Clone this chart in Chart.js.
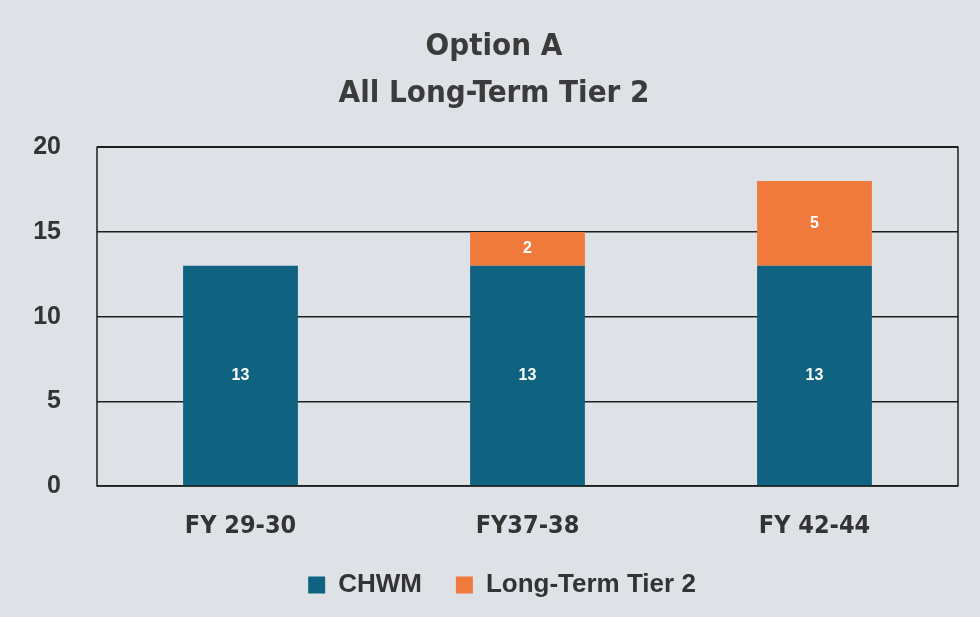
<!DOCTYPE html>
<html>
<head>
<meta charset="utf-8">
<script src="https://cdn.jsdelivr.net/npm/chart.js@4"></script>
<style>
  html, body { margin: 0; padding: 0; background: #dee2e7; }
  #wrap { width: 980px; height: 617px; }
</style>
</head>
<body>
<div id="wrap"><canvas id="chart" width="980" height="617"></canvas></div>
<script>
// Datos del grafico
const categories = ['FY 29-30', 'FY37-38', 'FY 42-44'];
const chwmValues = [13, 13, 13];
const tier2Values = [0, 2, 5];
const yTicks = [0, 5, 10, 15, 20];

const condensed = "'DejaVu Sans Condensed', 'Liberation Sans Narrow', sans-serif";
const plain = "'Liberation Sans', Arial, sans-serif";

// Etiquetas blancas dentro de cada segmento
const segmentLabels = {
    id: 'segmentLabels',
    afterDatasetsDraw(chart) {
        const ctx = chart.ctx;
        ctx.save();
        ctx.fillStyle = '#ffffff';
        ctx.font = "bold 16px " + plain;
        ctx.textAlign = 'center';
        ctx.textBaseline = 'middle';
        chart.data.datasets.forEach((ds, i) => {
            const meta = chart.getDatasetMeta(i);
            meta.data.forEach((bar, j) => {
                const v = ds.data[j];
                if (!v) return;
                ctx.fillText(String(v), bar.x, (bar.y + bar.base) / 2);
            });
        });
        ctx.restore();
    }
};

// Marco del area de trazado
const plotFrame = {
    id: 'plotFrame',
    beforeDatasetsDraw(chart) {
        const a = chart.chartArea;
        const ctx = chart.ctx;
        ctx.save();
        ctx.strokeStyle = '#1e1e1e';
        ctx.lineWidth = 1.5;
        ctx.strokeRect(a.left, a.top, a.right - a.left, a.bottom - a.top);
        ctx.restore();
    }
};

// Alto fijo de la leyenda y un leve corrimiento a la derecha
const legendTweak = {
    id: 'legendTweak',
    beforeInit(chart) {
        const fit = chart.legend.fit;
        chart.legend.fit = function () {
            fit.call(this);
            this.height = 79;
        };
    },
    afterLayout(chart) {
        chart.legend.left += 16;
    }
};

new Chart(document.getElementById('chart'), {
    type: 'bar',
    data: {
        labels: categories,
        datasets: [
            { label: 'CHWM', data: chwmValues, backgroundColor: '#0f6380' },
            { label: 'Long-Term Tier 2', data: tier2Values, backgroundColor: '#f07a3b' }
        ]
    },
    options: {
        responsive: false,
        animation: false,
        layout: { padding: { left: 30, right: 22, top: 23, bottom: 0 } },
        datasets: { bar: { categoryPercentage: 1, barPercentage: 0.4 } },
        scales: {
            x: {
                stacked: true,
                afterFit(scale) { scale.height = 52; },
                grid: { display: false },
                border: { display: false },
                ticks: { color: '#333', padding: 17, font: { family: condensed, size: 25, weight: 'bold' } }
            },
            y: {
                stacked: true,
                min: 0,
                max: 20,
                afterBuildTicks(scale) { scale.ticks = yTicks.map(v => ({ value: v })); },
                afterFit(scale) { scale.width = 67; },
                grid: { color: '#1e1e1e', lineWidth: 1.5, drawTicks: false },
                border: { display: false },
                ticks: { color: '#333', padding: 36, font: { family: plain, size: 25, weight: 'bold' } }
            }
        },
        plugins: {
            title: {
                display: true,
                text: ['Option A', 'All Long-Term Tier 2'],
                color: '#3b3b3b',
                font: { family: condensed, size: 31, weight: 'bold', lineHeight: 1.52 },
                padding: { top: 0, bottom: 30 }
            },
            legend: {
                position: 'bottom',
                labels: {
                    color: '#333',
                    boxWidth: 17,
                    boxHeight: 17,
                    padding: 34,
                    font: { family: plain, size: 26, weight: 'bold' }
                }
            },
            tooltip: { enabled: false }
        }
    },
    plugins: [segmentLabels, plotFrame, legendTweak]
});
</script>
</body>
</html>
